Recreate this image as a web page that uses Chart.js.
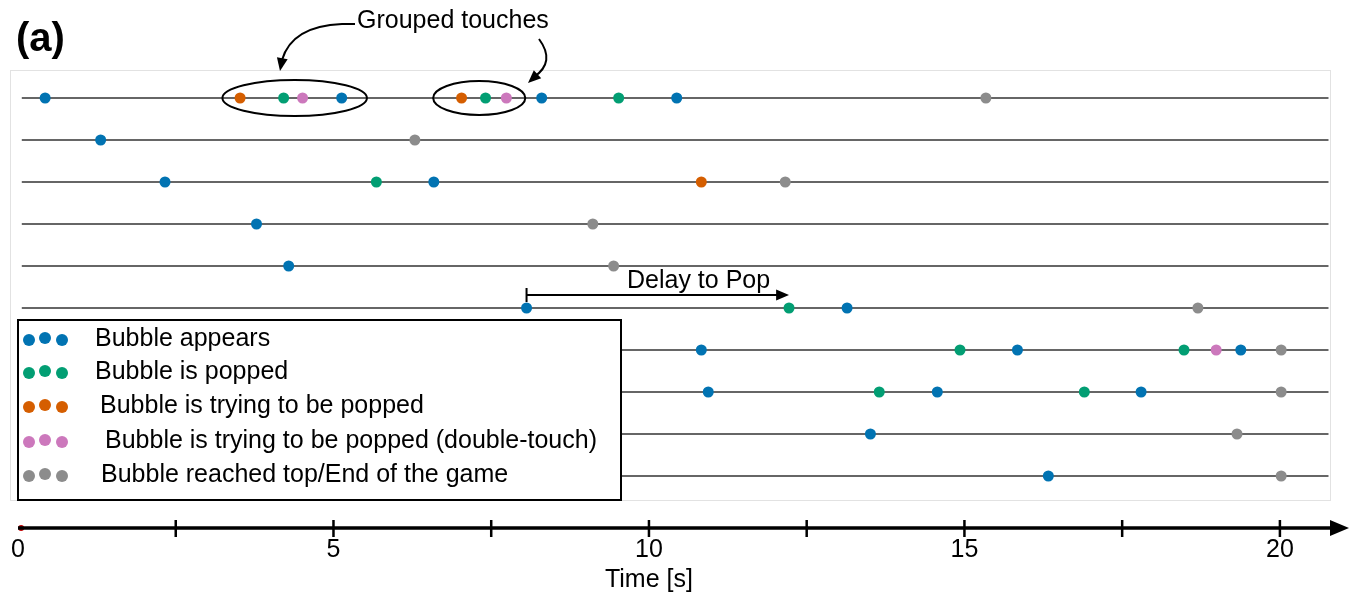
<!DOCTYPE html>
<html>
<head>
<meta charset="utf-8">
<script src="https://cdn.jsdelivr.net/npm/chart.js@4/dist/chart.umd.min.js"></script>
<style>
  body { margin: 0; background: #fff; }
  #wrap { width: 1350px; height: 599px; position: relative; }
</style>
</head>
<body>
<div id="wrap"><canvas id="chart"></canvas></div>
<script>
// one row per bubble, times in seconds
var rows = [1, 2, 3, 4, 5, 6, 7, 8, 9, 10];
var rowSpan = [0.06, 20.77];

var appearTimes = [0.43, 5.13, 8.30, 10.44, 1.31, 2.33, 6.59, 3.78, 4.29, 8.06, 13.14, 10.83, 15.84, 19.38, 10.94, 14.57, 17.80, 13.51, 16.33];
var appearRows  = [1, 1, 1, 1, 2, 3, 3, 4, 5, 6, 6, 7, 7, 7, 8, 8, 8, 9, 10];

var poppedTimes = [4.21, 7.41, 9.52, 5.68, 12.22, 14.93, 18.48, 13.65, 16.90];
var poppedRows  = [1, 1, 1, 3, 6, 7, 7, 8, 8];

var tryingTimes = [3.52, 7.03, 10.83];
var tryingRows  = [1, 1, 3];

var doubleTimes = [4.51, 7.74, 18.99];
var doubleRows  = [1, 1, 7];

var endTimes = [15.34, 6.29, 12.16, 9.11, 9.44, 18.70, 20.02, 20.02, 19.32, 20.02];
var endRows  = [1, 2, 3, 4, 5, 6, 7, 8, 9, 10];

var tickValues = [2.5, 5, 7.5, 10, 12.5, 15, 17.5, 20];

var legendLabels = ['Bubble appears', 'Bubble is popped', 'Bubble is trying to be popped',
                    'Bubble is trying to be popped (double-touch)', 'Bubble reached top/End of the game'];
var colors = ['#0173B2', '#029E73', '#D55E00', '#CC78BC', '#8c8c8c'];

var FONT = '"Liberation Sans", Arial, Helvetica, sans-serif';
var yMax = 11.238;

function pts(times, rws) {
  return times.map(function (t, i) { return { x: t, y: rws[i] }; });
}

var datasets = [];
rows.forEach(function (r) {
  datasets.push({
    type: 'line',
    data: [{ x: rowSpan[0], y: r }, { x: rowSpan[1], y: r }],
    borderColor: '#333',
    borderWidth: 1.6,
    pointRadius: 0,
    order: 3
  });
});
[[appearTimes, appearRows], [poppedTimes, poppedRows], [tryingTimes, tryingRows],
 [doubleTimes, doubleRows], [endTimes, endRows]].forEach(function (s, i) {
  datasets.push({
    label: legendLabels[i],
    data: pts(s[0], s[1]),
    backgroundColor: colors[i],
    borderWidth: 0,
    pointRadius: 5.5,
    order: 1
  });
});
// small red mark at the origin
datasets.push({ data: [{ x: 0.05, y: yMax }], backgroundColor: '#c00000', borderWidth: 0, pointRadius: 3, clip: false, order: 4 });

var decor = {
  id: 'decor',
  beforeDatasetsDraw: function (chart) {
    var ctx = chart.ctx;
    ctx.save();
    ctx.strokeStyle = '#e2e2e2';
    ctx.lineWidth = 1;
    ctx.strokeRect(10.5, 70.5, 1320, 430);
    ctx.restore();
  },
  afterDraw: function (chart) {
    var ctx = chart.ctx;
    var xs = chart.scales.x, ys = chart.scales.y;
    var axY = chart.chartArea.bottom;
    ctx.save();

    // time axis with arrow
    ctx.strokeStyle = '#000';
    ctx.fillStyle = '#000';
    ctx.lineWidth = 3.5;
    ctx.beginPath();
    ctx.moveTo(xs.getPixelForValue(0), axY);
    ctx.lineTo(1334, axY);
    ctx.stroke();
    ctx.beginPath();
    ctx.moveTo(1349, axY);
    ctx.lineTo(1330, axY - 8);
    ctx.lineTo(1330, axY + 8);
    ctx.closePath();
    ctx.fill();
    ctx.lineWidth = 2.5;
    tickValues.forEach(function (v) {
      var px = xs.getPixelForValue(v);
      ctx.beginPath();
      ctx.moveTo(px, axY - 8);
      ctx.lineTo(px, axY + 9);
      ctx.stroke();
    });
    ctx.font = '25px ' + FONT;
    ctx.textAlign = 'center';
    ctx.textBaseline = 'middle';
    ctx.fillText('Time [s]', xs.getPixelForValue(10), 580);

    // panel letter
    ctx.textAlign = 'left';
    ctx.font = 'bold 40px ' + FONT;
    ctx.fillText('(a)', 16, 40);

    // grouped touches
    ctx.lineWidth = 2;
    function ell(t0, t1, row, ry) {
      var a = xs.getPixelForValue(t0), b = xs.getPixelForValue(t1);
      ctx.beginPath();
      ctx.ellipse((a + b) / 2, ys.getPixelForValue(row), (b - a) / 2, ry, 0, 0, Math.PI * 2);
      ctx.stroke();
    }
    ell(3.24, 5.53, 1, 18);
    ell(6.58, 8.04, 1, 17);

    ctx.font = '25px ' + FONT;
    ctx.textBaseline = 'middle';
    ctx.fillText('Grouped touches', 357, 21);

    function head(x, y, ang) {
      ctx.beginPath();
      ctx.moveTo(x, y);
      ctx.lineTo(x - 14 * Math.cos(ang - 0.4), y - 14 * Math.sin(ang - 0.4));
      ctx.lineTo(x - 14 * Math.cos(ang + 0.4), y - 14 * Math.sin(ang + 0.4));
      ctx.closePath();
      ctx.fill();
    }
    ctx.beginPath();
    ctx.moveTo(355, 24);
    ctx.lineTo(342, 24);
    ctx.quadraticCurveTo(292, 26, 282, 60);
    ctx.stroke();
    head(280, 71, 1.75);
    ctx.beginPath();
    ctx.moveTo(539, 39);
    ctx.quadraticCurveTo(556, 62, 534, 77);
    ctx.stroke();
    head(528, 83, 2.4);

    // delay to pop
    var d0 = xs.getPixelForValue(8.06), d1 = xs.getPixelForValue(12.22);
    var dy = ys.getPixelForValue(5.69);
    ctx.lineWidth = 2;
    ctx.beginPath();
    ctx.moveTo(d0, dy);
    ctx.lineTo(d1 - 10, dy);
    ctx.moveTo(d0, dy - 7);
    ctx.lineTo(d0, dy + 7);
    ctx.stroke();
    head(d1, dy, 0);
    ctx.textAlign = 'left';
    ctx.fillText('Delay to Pop', 627, 281);

    // legend
    ctx.fillStyle = '#fff';
    ctx.fillRect(18, 320, 603, 180);
    ctx.strokeStyle = '#000';
    ctx.lineWidth = 2;
    ctx.strokeRect(18, 320, 603, 180);
    var ly = [339, 372, 406, 441, 475];
    var lx = [95, 95, 100, 105, 101];
    legendLabels.forEach(function (lab, i) {
      ctx.fillStyle = colors[i];
      [[29, 1], [45, -1], [62, 1]].forEach(function (d) {
        ctx.beginPath();
        ctx.arc(d[0], ly[i] + d[1], 6, 0, Math.PI * 2);
        ctx.fill();
      });
      ctx.fillStyle = '#000';
      ctx.font = '25px ' + FONT;
      ctx.textAlign = 'left';
      ctx.fillText(lab, lx[i], ly[i]);
    });
    ctx.restore();
  }
};

new Chart(document.getElementById('chart'), {
  type: 'scatter',
  data: { datasets: datasets },
  options: {
    responsive: true,
    maintainAspectRatio: false,
    animation: false,
    layout: { padding: { top: 56, left: 18, right: 5, bottom: 0 } },
    plugins: { legend: { display: false }, tooltip: { enabled: false } },
    scales: {
      x: {
        type: 'linear',
        min: 0,
        max: 21,
        afterFit: function (s) { s.height = 71; },
        grid: { display: false, drawTicks: false },
        border: { display: false },
        ticks: {
          stepSize: 2.5,
          autoSkip: false,
          maxRotation: 0,
          padding: 7,
          color: '#000',
          font: { size: 25, family: FONT },
          callback: function (v) { return v % 5 === 0 ? v : ''; }
        }
      },
      y: { type: 'linear', min: 0, max: yMax, reverse: true, display: false }
    }
  },
  plugins: [decor]
});
</script>
</body>
</html>
